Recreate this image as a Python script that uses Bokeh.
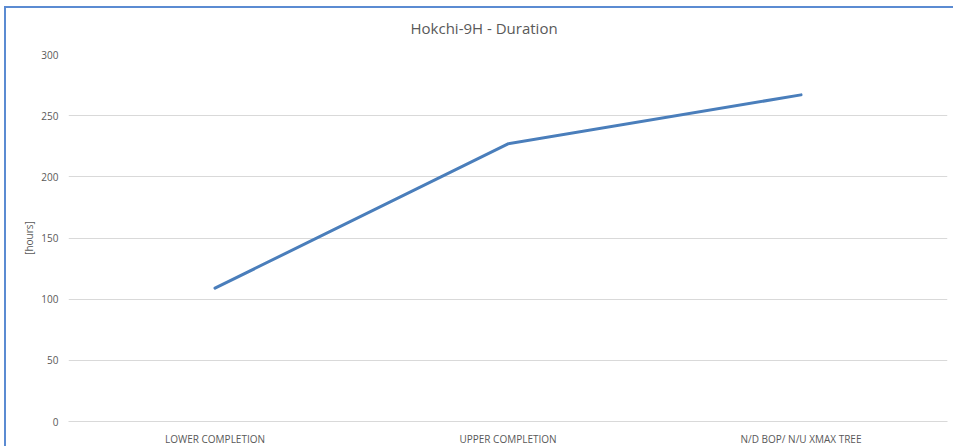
from bokeh.plotting import figure
from bokeh.models import Range1d, FactorRange, SingleIntervalTicker, Title
from bokeh.embed import file_html
from bokeh.resources import INLINE

categories = ["LOWER COMPLETION", "UPPER COMPLETION", "N/D BOP/ N/U XMAX TREE"]
durations = [109, 227, 267]
title_text = "Hokchi-9H - Duration"
y_label = "[hours]"

FONT = "Open Sans"
TXT = "#595959"
GRID = "#d9d9d9"

W, H = 949, 440
p = figure(width=W, height=H, output_backend="svg", toolbar_location=None,
           x_range=FactorRange(*categories, range_padding=0),
           y_range=Range1d(0, 300),
           title=title_text,
           min_border_left=62, min_border_right=8, min_border_top=46, min_border_bottom=26)
p.styles = {"margin-left": "4px", "margin-top": "6px",
            "border-left": "2px solid #5b8bd2", "border-top": "2px solid #5b8bd2"}

p.line(x=categories, y=durations, line_color="#4a7ebb", line_width=3, line_cap="round", line_join="round")

# spacer between the plot area and the title
p.add_layout(Title(text=" ", text_font_size="1px", standoff=14), "above")

p.title.align = "left"
p.title.offset = 342
p.title.vertical_align = "bottom"
p.title.standoff = 0
p.title.text_font = FONT
p.title.text_font_size = "15px"
p.title.text_font_style = "normal"
p.title.text_color = TXT

p.outline_line_color = None
p.xgrid.grid_line_color = None
p.ygrid.grid_line_color = GRID
p.ygrid.grid_line_width = 1

p.yaxis.ticker = SingleIntervalTicker(interval=50)
p.yaxis.axis_line_color = None
p.yaxis.major_tick_line_color = None
p.yaxis.minor_tick_line_color = None
p.yaxis.major_tick_out = 0
p.yaxis.major_tick_in = 0
p.yaxis.major_label_standoff = 6
p.yaxis.major_label_text_font = FONT
p.yaxis.major_label_text_font_size = "10px"
p.yaxis.major_label_text_color = TXT
p.yaxis.axis_label = y_label
p.yaxis.axis_label_text_font = FONT
p.yaxis.axis_label_text_font_size = "10px"
p.yaxis.axis_label_text_font_style = "normal"
p.yaxis.axis_label_text_color = TXT
p.yaxis.axis_label_standoff = 2

p.xaxis.axis_line_color = GRID
p.xaxis.major_tick_line_color = None
p.xaxis.minor_tick_line_color = None
p.xaxis.major_tick_out = 0
p.xaxis.major_tick_in = 0
p.xaxis.major_label_standoff = 10
p.xaxis.major_label_text_font = FONT
p.xaxis.major_label_text_font_size = "10px"
p.xaxis.major_label_text_color = TXT

open("out.html", "w").write(file_html(p, INLINE))
